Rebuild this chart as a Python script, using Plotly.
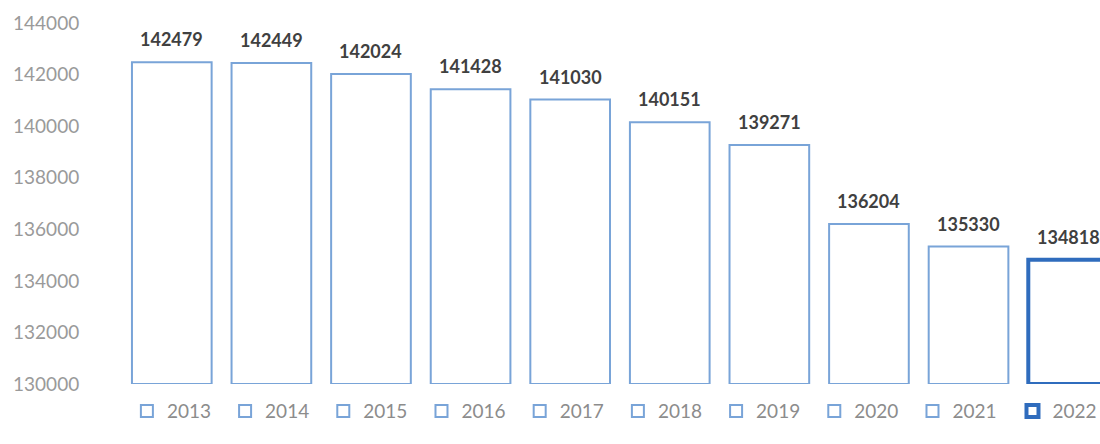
import plotly.graph_objects as go

years = ["2013", "2014", "2015", "2016", "2017", "2018", "2019", "2020", "2021", "2022"]
values = [142479, 142449, 142024, 141428, 141030, 140151, 139271, 136204, 135330, 134818]
y_ticks = [130000, 132000, 134000, 136000, 138000, 140000, 142000, 144000]

base = 130000
fig = go.Figure()
for i, (yr, v) in enumerate(zip(years, values)):
    last = (i == len(years) - 1)
    fig.add_trace(go.Bar(
        x=[i], y=[v - base], base=base, name=yr, width=0.8,
        legend="legend2" if last else "legend",
        cliponaxis=False,
        marker=dict(color="white",
                    line=dict(color="#2f6cbd" if last else "#79a4d8",
                              width=4 if last else 2)),
        hoverinfo="skip",
    ))

for i, v in enumerate(values):
    fig.add_annotation(x=i, y=v, text=str(v), showarrow=False,
                       yanchor="bottom", yshift=10,
                       font=dict(family="Lato", size=18, color="#404040", weight="bold"))

leg_common = dict(orientation="h", xanchor="left", y=-0.075, yanchor="middle",
                  entrywidth=53.2, entrywidthmode="pixels",
                  font=dict(family="Lato", size=19, color="#8c8c8c"),
                  itemclick=False, itemdoubleclick=False, tracegroupgap=0)

leg_x = 0.005
fig.update_layout(
    width=1100, height=444,
    margin=dict(l=122, r=0, t=23, b=60, autoexpand=False),
    plot_bgcolor="white", paper_bgcolor="white",
    barmode="overlay", showlegend=True,
    legend=dict(x=leg_x, **leg_common),
    legend2=dict(x=leg_x + 9 * 98.4 / 978, **leg_common),
    xaxis=dict(range=[-0.5, 9.32], showticklabels=False, showgrid=False,
               zeroline=False, showline=False, fixedrange=True),
    yaxis=dict(range=[130000, 144000], tickvals=y_ticks, tickformat="d",
               showgrid=False, zeroline=False, showline=False,
               ticks="outside", ticklen=38, tickcolor="rgba(0,0,0,0)",
               tickfont=dict(family="Lato", size=19, color="#9a9a9a")),
)

fig.write_html("out.html", config={"displayModeBar": False},
               post_script="document.body.style.margin='0';")
